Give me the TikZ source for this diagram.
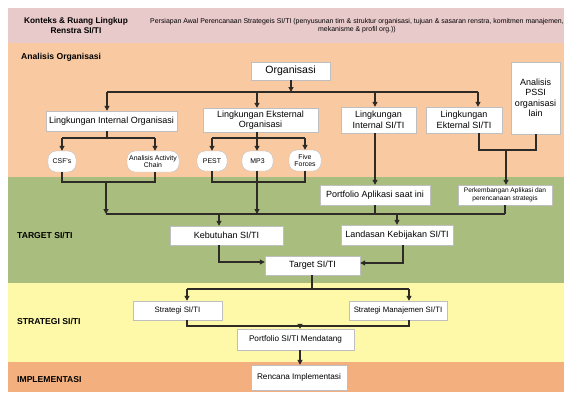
\documentclass[tikz,border=0pt]{standalone}
\usepackage{fontspec}
\setmainfont{Liberation Sans}
\usetikzlibrary{arrows.meta}
\definecolor{bpink}{HTML}{E9CACB}
\definecolor{bpeach}{HTML}{F9CAA2}
\definecolor{bgreen}{HTML}{A9BD7E}
\definecolor{byellow}{HTML}{FEF9A8}
\definecolor{borange}{HTML}{F3B07E}
\definecolor{lncol}{HTML}{2E2A26}
\tikzset{
  box/.style={rectangle, fill=white, draw=black!25, line width=0.4pt, inner sep=0pt, align=center, font=\fontsize{9}{10.5}\selectfont},
  pill/.style={box, rounded corners=8pt, font=\fontsize{6.9}{7.6}\selectfont},
  ln/.style={draw=lncol, line width=1.05pt},
  arr/.style={ln, -{Triangle[length=5pt,width=5pt]}},
  bandlabel/.style={anchor=west, inner sep=0pt, font=\bfseries\fontsize{8.6}{10}\selectfont}
}
\begin{document}
\begin{tikzpicture}[x=1pt,y=-1pt]
\useasboundingbox (0,0) rectangle (564,392);
\clip (0,0) rectangle (564,392);
% bands
\fill[bpink] (8,8) rectangle (564,42.5);
\fill[bpeach] (8,42.5) rectangle (564,177);
\fill[bgreen] (8,177) rectangle (564,283);
\fill[byellow] (8,283) rectangle (564,362);
\fill[borange] (8,362) rectangle (564,392);
% header
\node[align=center, inner sep=0pt, font=\bfseries\fontsize{8.3}{10.5}\selectfont] (hdr) at (76,25.5) {Konteks \& Ruang Lingkup\\Renstra SI/TI};
\node[align=center, inner sep=0pt, font=\fontsize{6.95}{8.6}\selectfont] (hdesc) at (357,25.5) {Persiapan Awal Perencanaan Strategeis SI/TI (penyusunan tim \& struktur organisasi, tujuan \& sasaran renstra, komitmen manajemen,\\mekanisme \& profil org.))};
% band labels
\node[bandlabel] (lao) at (21,57) {Analisis Organisasi};
\node[bandlabel] (ltg) at (17,235) {TARGET SI/TI};
\node[bandlabel] (lst) at (17,321) {STRATEGI SI/TI};
\node[bandlabel] (lim) at (17,380) {IMPLEMENTASI};
% nodes
\node[box, minimum width=79, minimum height=18, font=\fontsize{10.5}{12}\selectfont] (org) at (290.5,71) {Organisasi};
\node[box, minimum width=131, minimum height=20] (lio) at (111.5,121) {Lingkungan Internal Organisasi};
\node[box, minimum width=115, minimum height=24] (leo) at (260.5,120) {Lingkungan Eksternal\\Organisasi};
\node[box, minimum width=75, minimum height=26] (lisi) at (378.5,120) {Lingkungan\\Internal SI/TI};
\node[box, minimum width=76, minimum height=26] (lesi) at (464,120) {Lingkungan\\Ekternal SI/TI};
\node[box, minimum width=49, minimum height=72] (pssi) at (535.5,98) {Analisis\\PSSI\\organisasi\\lain};
\node[pill, minimum width=28, minimum height=21] (csf) at (62,161.5) {CSF's};
\node[pill, minimum width=52, minimum height=21] (aac) at (153,161.5) {Analisis Activity\\Chain};
\node[pill, minimum width=30, minimum height=20] (pest) at (212,161) {PEST};
\node[pill, minimum width=31, minimum height=20] (mp3) at (257.5,161) {MP3};
\node[pill, minimum width=32, minimum height=21] (ff) at (305,160.5) {Five\\Forces};
\node[box, minimum width=110, minimum height=20] (pai) at (375,195) {Portfolio Aplikasi saat ini};
\node[box, minimum width=94, minimum height=20, font=\fontsize{6.6}{7.8}\selectfont] (pas) at (505,195) {Perkembangan Aplikasi dan\\perencanaan strategis};
\node[box, minimum width=113, minimum height=19] (keb) at (226.5,235.5) {Kebutuhan SI/TI};
\node[box, minimum width=112, minimum height=20] (lkb) at (397,235) {Landasan Kebijakan SI/TI};
\node[box, minimum width=95, minimum height=19] (tgt) at (312.5,265.5) {Target SI/TI};
\node[box, minimum width=89, minimum height=19, font=\fontsize{7.8}{9}\selectfont] (str) at (177.5,310.5) {Strategi SI/TI};
\node[box, minimum width=98, minimum height=19, font=\fontsize{7.8}{9}\selectfont] (stm) at (398,310.5) {Strategi Manajemen SI/TI};
\node[box, minimum width=117, minimum height=21, font=\fontsize{8.2}{9.5}\selectfont] (pm) at (295.5,339.5) {Portfolio SI/TI Mendatang};
\node[box, minimum width=96, minimum height=25, font=\fontsize{8.2}{9.5}\selectfont] (ri) at (299,377.5) {Rencana Implementasi};
% junction coordinates
\coordinate (b1) at (291,92);
\coordinate (b1l) at (107,92);
\coordinate (b1r) at (478,92);
\coordinate (c1) at (107,138);
\coordinate (c1l) at (62,138);
\coordinate (c1r) at (155,138);
\coordinate (c2) at (257,138);
\coordinate (c2l) at (212,138);
\coordinate (c2r) at (305,138);
\coordinate (e1) at (479,150);
\coordinate (e2) at (536,150);
\coordinate (e3) at (506,150);
\coordinate (d1l) at (62,182);
\coordinate (d1r) at (155,182);
\coordinate (d1m) at (106,182);
\coordinate (d2l) at (212,182);
\coordinate (d2r) at (305,182);
\coordinate (bb) at (106,214);
\coordinate (bbr) at (505,214);
\coordinate (k1) at (219,214);
\coordinate (k2) at (397,214);
\coordinate (t1) at (219,262);
\coordinate (t2) at (403,263);
\coordinate (s0) at (312,289);
\coordinate (s1) at (187,289);
\coordinate (s2) at (409,289);
\coordinate (p1) at (187,326);
\coordinate (p2) at (409,326);
\coordinate (p0) at (300,326);
% connectors: organisasi level
\draw[arr] (org.south -| b1) -- (b1);
\draw[ln] (b1l) -- (b1r);
\draw[arr] (b1l) -- (b1l |- lio.north);
\draw[arr] (b1 -| c2) -- (c2 |- leo.north);
\draw[arr] (375,92) -- (lisi.north -| 375,0);
\draw[arr] (b1r) -- (b1r |- lesi.north);
% internal org
\draw[ln] (lio.south -| c1) -- (c1);
\draw[ln] (c1l) -- (c1r);
\draw[arr] (c1l) -- (csf.north);
\draw[arr] (c1r) -- (c1r |- aac.north);
% external org
\draw[ln] (leo.south -| c2) -- (c2);
\draw[ln] (c2l) -- (c2r);
\draw[arr] (c2l) -- (c2l |- pest.north);
\draw[arr] (c2) -- (c2 |- mp3.north);
\draw[arr] (c2r) -- (ff.north);
% SI/TI external + PSSI
\draw[ln] (lesi.south -| e1) -- (e1) -- (e2) -- (pssi.south -| e2);
\draw[arr] (e3) -- (e3 |- pas.north);
\draw[arr] (lisi.south -| 375,0) -- (pai.north);
% brackets below pills
\draw[ln] (csf.south) -- (d1l) -- (d1r) -- (d1r |- aac.south);
\draw[arr] (d1m) -- (bb);
\draw[ln] (d2l |- pest.south) -- (d2l) -- (d2r) -- (ff.south);
\draw[arr] (mp3.south -| c2) -- (c2 |- bb);
% big bus
\draw[ln] (bb) -- (bbr);
\draw[ln] (pai.south) -- (pai.south |- bb);
\draw[ln] (pas.south) -- (bbr);
\draw[arr] (k1) -- (k1 |- keb.north);
\draw[arr] (k2) -- (lkb.north);
% to target
\draw[arr] (keb.south -| t1) -- (t1) -- (t1 -| tgt.west);
\draw[arr] (lkb.south -| t2) -- (t2) -- (t2 -| tgt.east);
% strategy
\draw[ln] (tgt.south -| s0) -- (s0);
\draw[ln] (s1) -- (s2);
\draw[arr] (s1) -- (s1 |- str.north);
\draw[arr] (s2) -- (s2 |- stm.north);
\draw[ln] (str.south -| p1) -- (p1) -- (p2) -- (stm.south -| p2);
\draw[arr] (p0) -- (p0 |- pm.north);
\draw[arr] (pm.south -| p0) -- (p0 |- ri.north);
\end{tikzpicture}
\end{document}
